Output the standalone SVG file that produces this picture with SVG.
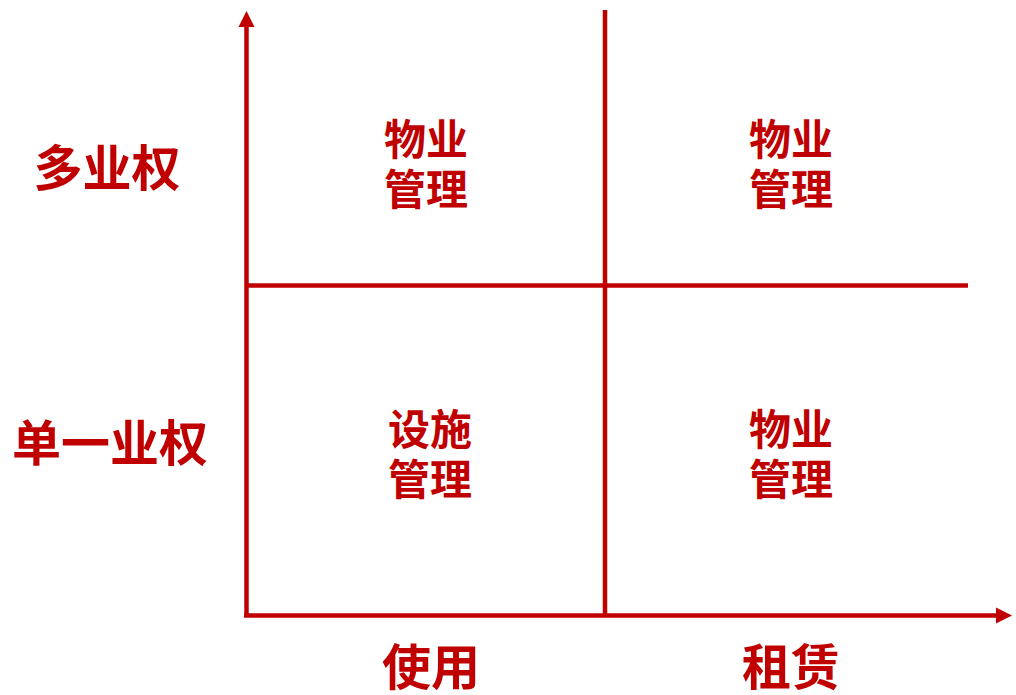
<svg xmlns="http://www.w3.org/2000/svg" width="1016" height="695" viewBox="0 0 1016 695">
<style>
.t{font-family:"Noto Sans CJK SC","Noto Sans CJK JP",sans-serif;font-weight:bold;fill:#C00000;text-anchor:middle}
.c{font-size:42px}
.l{font-size:49px}
.ln{stroke:#C00000;stroke-width:4.5;fill:none}
</style>
<defs>
<marker id="ah" markerUnits="userSpaceOnUse" markerWidth="18" markerHeight="18" refX="0" refY="8" orient="auto" viewBox="0 0 18 16">
<path d="M0,0 L16,8 L0,16 Z" fill="#C00000"/>
</marker>
</defs>
<rect width="1016" height="695" fill="#fff"/>
<g id="connectors">
<path class="ln" d="M246.5,616 V27" marker-end="url(#ah)"/>
<path class="ln" d="M244,615.5 H996" marker-end="url(#ah)"/>
<path class="ln" d="M605,10 V615"/>
<path class="ln" d="M246,285.5 H968"/>
</g>
<g id="q1"><text class="t c" x="426" y="155">物业</text><text class="t c" x="426" y="205">管理</text></g>
<g id="q2"><text class="t c" x="791" y="155">物业</text><text class="t c" x="791" y="205">管理</text></g>
<g id="q3"><text class="t c" x="430" y="445">设施</text><text class="t c" x="430" y="495">管理</text></g>
<g id="q4"><text class="t c" x="791" y="445">物业</text><text class="t c" x="791" y="495">管理</text></g>
<g id="y1"><text class="t l" x="107" y="186">多业权</text></g>
<g id="y2"><text class="t l" x="110" y="461">单一业权</text></g>
<g id="x1"><text class="t l" x="431" y="685">使用</text></g>
<g id="x2"><text class="t l" x="791" y="685">租赁</text></g>
</svg>
